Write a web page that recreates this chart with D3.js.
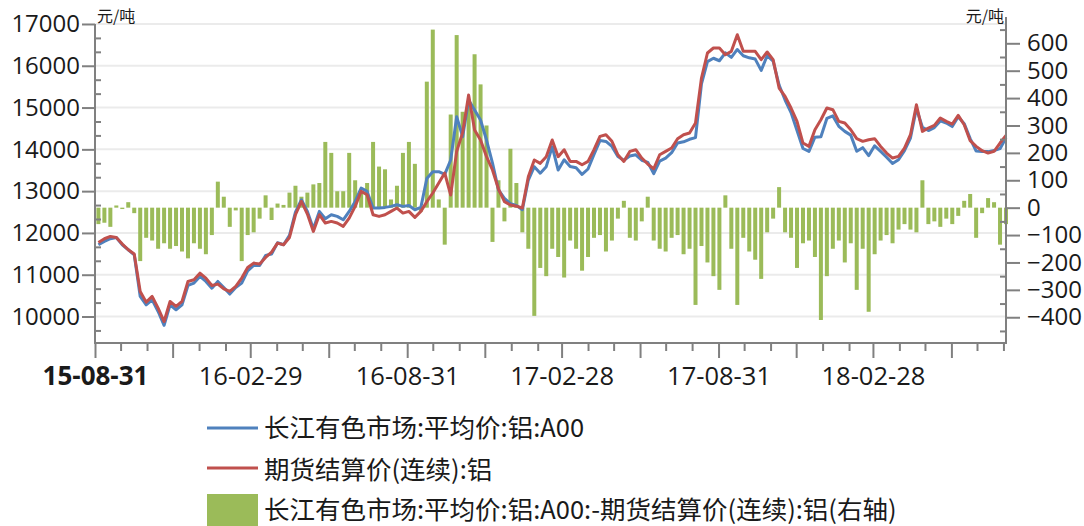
<!DOCTYPE html>
<html>
<head>
<meta charset="utf-8">
<script src="https://cdn.jsdelivr.net/npm/d3@7"></script>
<style>
    body { margin: 0; background: #fff; }
    text { font-family: "Open Sans", sans-serif; fill: #1a1a1a; }
    .legend text { font-family: "Noto Sans CJK SC", sans-serif; }
</style>
</head>
<body>
<div id="chart-area"></div>
<script>
// DATA (weekly readings, Fridays 15-09-04 .. 18-08-03)
// =====

// 期货结算价(连续):铝  (left axis)
var futures = [
    11773, 11861, 11916, 11892, 11733, 11597, 11494, 10600, 10344, 10480,
    10200, 9880, 10360, 10240, 10360, 10839, 10879, 11038, 10919, 10743,
    10775, 10663, 10600, 10719, 10919, 11174, 11278, 11254, 11414, 11541,
    11757, 11717, 11892, 12435, 12754, 12451, 12036, 12435, 12236, 12276,
    12236, 12156, 12355, 12635, 12994, 12914, 12435, 12395, 12435, 12515,
    12595, 12475, 12515, 12371, 12515, 12747, 12955, 13195, 13434, 12907,
    13950, 14400, 15300, 14462, 14223, 13824, 13506, 13050, 12747, 12668,
    12640, 12596, 13345, 13745, 13665, 13824, 14223, 13824, 13991, 13712,
    13712, 13632, 13712, 13991, 14310, 14350, 14191, 13871, 13712, 13951,
    13991, 13792, 13648, 13536, 13871, 13951, 14031, 14255, 14350, 14390,
    14630, 15707, 16305, 16425, 16425, 16265, 16345, 16744, 16345, 16345,
    16345, 16146, 16329, 16146, 15467, 15268, 14989, 14669, 14151, 14071,
    14470, 14709, 14989, 14949, 14669, 14630, 14470, 14255, 14191, 14231,
    14255, 14071, 13911, 13792, 13832, 14031, 14350, 15068, 14430, 14510,
    14574, 14749, 14669, 14606, 14813, 14590, 14207, 14071, 13967, 13911,
    13951, 14151, 14334
];

// 长江有色市场:平均价:铝:A00  (left axis)
var spot = [
    11717, 11797, 11861, 11892, 11717, 11597, 11477, 10480, 10280, 10400,
    10121, 9790, 10280, 10161, 10280, 10743, 10799, 10959, 10839, 10679,
    10839, 10695, 10536, 10695, 10799, 11094, 11222, 11222, 11462, 11494,
    11765, 11717, 11940, 12499, 12794, 12515, 12100, 12515, 12339, 12435,
    12395, 12315, 12515, 12754, 13073, 12994, 12595, 12595, 12611, 12635,
    12674, 12635, 12658, 12555, 12611, 13300, 13465, 13465, 13400, 13745,
    14781, 14303, 15180, 14940, 14702, 14223, 13673, 13030, 12827, 12700,
    12660, 12556, 13265, 13585, 13430, 13585, 14064, 13505, 13750, 13590,
    13560, 13400, 13530, 13880, 14210, 14190, 14070, 13830, 13740, 13840,
    13870, 13740, 13690, 13420, 13720, 13790, 13920, 14150, 14180, 14240,
    14280, 15570, 16100, 16180, 16120, 16310, 16200, 16390, 16240, 16190,
    16160, 15890, 16240, 16110, 15540, 15180, 14880, 14450, 14020, 13950,
    14290, 14300, 14740, 14800, 14550, 14430, 14340, 13955, 14040, 13850,
    14085, 13950, 13810, 13660, 13750, 13970, 14270, 14980, 14530, 14450,
    14520, 14680, 14630, 14545, 14780, 14615, 14257, 13960, 13947, 13946,
    13971, 14016, 14274
];

// 价差 (right axis)
var basis = [
    -60, -55, -70, 8, -5, 20, -20, -195, -110, -120,
    -150, -130, -150, -140, -160, -185, -130, -150, -170, -100,
    95, 40, -70, -10, -195, -100, -90, -40, 45, -45,
    15, 10, 55, 80, 40, 55, 85, 90, 240, 200,
    60, 60, 200, 100, 60, 90, 240, 150, 140, 30,
    80, 200, 240, 160, -15, 460, 650, 30, -135, 340,
    630, 350, 380, 560, 450, 300, -125, 100, -50, 215,
    90, -90, -150, -395, -220, -250, -150, -180, -255, -120,
    -150, -230, -180, -110, -100, -160, -120, -40, 25, -110,
    -120, -50, 40, -120, -150, -160, -110, -100, -170, -150,
    -355, -140, -200, -250, -300, 45, -150, -355, -110, -160,
    -190, -260, -90, -40, 75, -90, -110, -220, -130, -120,
    -180, -410, -250, -150, -120, -200, -130, -300, -150, -380,
    -170, -120, -100, -130, -80, -60, -80, -90, 100, -60,
    -50, -70, -40, -60, -30, 25, 50, -110, -20, 35,
    20, -135, -60
];

var xLabels = ['15-08-31', '16-02-29', '16-08-31', '17-02-28', '17-08-31', '18-02-28'];
var legendNames = [
    '长江有色市场:平均价:铝:A00',
    '期货结算价(连续):铝',
    '长江有色市场:平均价:铝:A00:-期货结算价(连续):铝(右轴)'
];

// CANVAS
// =======

var width = 1084, height = 526;
var plot = { left: 95, right: 1006, top: 17, bottom: 343 };
var axisColor = '#808080';

var svg = d3.select('#chart-area')
    .append('svg')
        .attr('width', width)
        .attr('height', height);

var dates = d3.timeFriday.range(new Date(2015, 8, 4), new Date(2018, 7, 4));

var x = d3.scaleTime()
    .domain([new Date(2015, 7, 31), new Date(2018, 7, 3)])
    .range([plot.left, plot.right]);

var yL = d3.scaleLinear()
    .domain([9366, 17167])
    .range([plot.bottom, plot.top]);

var yR = d3.scaleLinear()
    .domain([-494, 696])
    .range([plot.bottom, plot.top]);

// GRID
// =====
svg.append('g')
    .selectAll('line')
    .data(d3.range(10000, 17001, 1000))
    .enter()
    .append('line')
        .attr('x1', plot.left)
        .attr('x2', plot.right)
        .attr('y1', d => yL(d))
        .attr('y2', d => yL(d))
        .attr('stroke', '#ebebeb')
        .attr('stroke-width', 2);

// BARS
// =====
svg.append('g')
    .selectAll('rect')
    .data(basis)
    .enter()
    .append('rect')
        .attr('x', (d, i) => x(dates[i]) - 2)
        .attr('width', 4)
        .attr('y', d => yR(Math.max(0, d)))
        .attr('height', d => Math.abs(yR(d) - yR(0)))
        .attr('fill', '#9bbb59');

// LINES
// ======
function drawLine(values, color) {
    var line = d3.line()
        .x((d, i) => x(dates[i]))
        .y(d => yL(d));
    svg.append('path')
        .datum(values)
        .attr('d', line)
        .attr('fill', 'none')
        .attr('stroke', color)
        .attr('stroke-width', 3)
        .attr('stroke-linejoin', 'round');
}
drawLine(spot, '#4f81bd');
drawLine(futures, '#c0504d');

// AXES
// =====
function styleAxis(g) {
    g.select('.domain').remove();
    g.selectAll('.tick line')
        .attr('stroke', axisColor)
        .attr('stroke-width', 2);
    g.selectAll('text')
        .attr('font-size', '24px')
        .attr('fill', '#1a1a1a')
        .style('font-family', '"Open Sans", sans-serif');
    // drop the empty labels of minor ticks
    g.selectAll('text').filter(function() { return this.textContent === ''; }).remove();
}

// left
var leftMinor = d3.range(0, 23)
    .map(k => 9666.67 + k * 333.333)
    .filter(v => Math.abs(v / 1000 - Math.round(v / 1000)) > 0.01);

svg.append('g')
    .attr('transform', 'translate(' + plot.left + ',0)')
    .call(d3.axisLeft(yL).tickValues(leftMinor).tickSize(-6).tickFormat(''))
    .call(styleAxis);

svg.append('g')
    .attr('transform', 'translate(' + plot.left + ',0)')
    .call(d3.axisLeft(yL).tickValues(d3.range(10000, 17001, 1000))
        .tickSize(13).tickPadding(2).tickFormat(d3.format('d')))
    .call(styleAxis);

// right
svg.append('g')
    .attr('transform', 'translate(' + plot.right + ',0)')
    .call(d3.axisRight(yR).tickValues(d3.range(-450, 651, 100)).tickSize(-6).tickFormat(''))
    .call(styleAxis);

svg.append('g')
    .attr('transform', 'translate(' + plot.right + ',0)')
    .call(d3.axisRight(yR).tickValues(d3.range(-400, 601, 100))
        .tickSize(14).tickPadding(7).tickFormat(d3.format('d')))
    .call(styleAxis);

// bottom
var monthEnds = d3.timeMonth.range(new Date(2015, 8, 1), new Date(2018, 7, 2))
    .map(d => d3.timeDay.offset(d, -1));
var majorEnds = monthEnds.filter(d => (d.getMonth() - 1) % 3 === 0);
var minorEnds = monthEnds.filter(d => (d.getMonth() - 1) % 3 !== 0);
var fmt = d3.timeFormat('%y-%m-%d');

svg.append('g')
    .attr('transform', 'translate(0,' + plot.bottom + ')')
    .call(d3.axisBottom(x).tickValues(minorEnds).tickSize(8).tickFormat(''))
    .call(styleAxis);

svg.append('g')
    .attr('transform', 'translate(0,' + plot.bottom + ')')
    .call(d3.axisBottom(x).tickValues(majorEnds).tickSize(15).tickPadding(9)
        .tickFormat(d => xLabels.indexOf(fmt(d)) >= 0 ? fmt(d) : ''))
    .call(styleAxis)
    .selectAll('text')
        .attr('font-size', d => fmt(d) === xLabels[0] ? '26px' : '25.5px')
        .attr('font-weight', d => fmt(d) === xLabels[0] ? 'bold' : 'normal');

// axis lines
svg.append('line')
    .attr('x1', plot.left).attr('x2', plot.left)
    .attr('y1', yL(17000)).attr('y2', plot.bottom + 1)
    .attr('stroke', axisColor).attr('stroke-width', 2);
svg.append('line')
    .attr('x1', plot.right).attr('x2', plot.right)
    .attr('y1', plot.top).attr('y2', plot.bottom + 1)
    .attr('stroke', axisColor).attr('stroke-width', 2);
svg.append('line')
    .attr('x1', plot.left - 1).attr('x2', plot.right + 1)
    .attr('y1', plot.bottom).attr('y2', plot.bottom)
    .attr('stroke', axisColor).attr('stroke-width', 2);

// UNITS
// ======
svg.append('text')
    .attr('x', 97)
    .attr('y', 22)
    .attr('font-size', '16px')
    .style('font-family', '"Noto Sans CJK SC", sans-serif')
    .text('元/吨');

svg.append('text')
    .attr('x', 1004)
    .attr('y', 22)
    .attr('font-size', '16px')
    .attr('text-anchor', 'end')
    .style('font-family', '"Noto Sans CJK SC", sans-serif')
    .text('元/吨');

// LEGEND
// =======
var legend = svg.append('g').attr('class', 'legend');
var rowsY = [428, 470, 510];

legend.append('line')
    .attr('x1', 207).attr('x2', 258)
    .attr('y1', rowsY[0]).attr('y2', rowsY[0])
    .attr('stroke', '#4f81bd').attr('stroke-width', 3);
legend.append('line')
    .attr('x1', 207).attr('x2', 258)
    .attr('y1', rowsY[1] - 2).attr('y2', rowsY[1] - 2)
    .attr('stroke', '#c0504d').attr('stroke-width', 3);
legend.append('rect')
    .attr('x', 207).attr('y', 494)
    .attr('width', 51).attr('height', 34)
    .attr('fill', '#9bbb59');

legend.selectAll('text')
    .data(legendNames)
    .enter()
    .append('text')
        .attr('x', 264)
        .attr('y', (d, i) => rowsY[i])
        .attr('dy', '0.35em')
        .attr('font-size', '25.5px')
        .text(d => d);
</script>
</body>
</html>
